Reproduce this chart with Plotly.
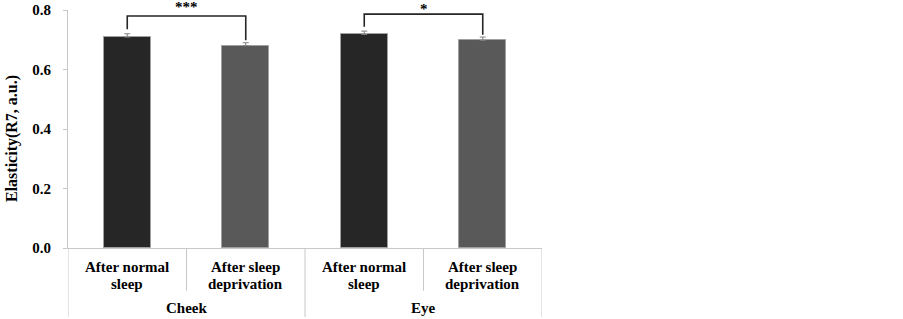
import plotly.graph_objects as go

groups = ["Cheek", "Eye"]
conditions = ["After normal<br>sleep", "After sleep<br>deprivation", "After normal<br>sleep", "After sleep<br>deprivation"]
values = [0.709, 0.680, 0.718, 0.698]
errors = [0.011, 0.010, 0.011, 0.011]
bar_colors = ["#262626", "#595959", "#262626", "#595959"]
sig_labels = ["***", "*"]
y_ticks = [0.0, 0.2, 0.4, 0.6, 0.8]
y_title = "Elasticity(R7, a.u.)"

FONT = "Liberation Serif"
AX = "#c8c8c8"
xs = list(range(len(values)))

fig = go.Figure()
fig.add_trace(go.Bar(
    x=xs, y=values, width=0.4,
    marker=dict(color=bar_colors, line=dict(color="#a0a0a0", width=1)),
    error_y=dict(type="data", array=errors, arrayminus=[0] * len(errors), symmetric=False,
                 color="#808080", thickness=1, width=3),
    showlegend=False,
))

# significance brackets
for i, lab in enumerate(sig_labels):
    a, b = 2 * i, 2 * i + 1
    top = max(values[a] + errors[a], values[b] + errors[b]) + 0.06
    if i == 1:
        top -= 0.003
    fig.add_trace(go.Scatter(
        x=[a, a, b, b],
        y=[values[a] + errors[a] + 0.015, top, top, values[b] + errors[b] + 0.008],
        mode="lines", line=dict(color="#262626", width=1.6),
        showlegend=False, cliponaxis=False, hoverinfo="skip",
    ))
    fig.add_annotation(x=(a + b) / 2, y=top, text="<b>%s</b>" % lab, showarrow=False,
                       yanchor="bottom", yshift=-1 if len(lab) > 1 else -5,
                       font=dict(family=FONT, size=15, color="#000"))

# category labels (one annotation per line for tighter spacing)
for x, c in zip(xs, conditions):
    for j, line in enumerate(c.split("<br>")):
        fig.add_annotation(x=x, y=0, yref="paper", text="<b>%s</b>" % line, showarrow=False,
                           yanchor="top", yshift=-9 - 17 * j,
                           font=dict(family=FONT, size=15, color="#000"))
for gi, g in enumerate(groups):
    fig.add_annotation(x=2 * gi + 0.5, y=0, yref="paper", text="<b>%s</b>" % g, showarrow=False,
                       yanchor="top", yshift=-50, font=dict(family=FONT, size=15, color="#000"))

# y title
fig.add_annotation(x=0, xref="paper", y=0.5, yref="paper", text="<b>%s</b>" % y_title,
                   textangle=-90, showarrow=False, xanchor="center", yanchor="middle",
                   xshift=-56, yshift=-10, font=dict(family=FONT, size=16, color="#000"))

# dividers
for k in range(len(values) + 1):
    xpos = k - 0.5
    long = (k % 2 == 0)
    fig.add_shape(type="line", xref="x", yref="paper", x0=xpos, x1=xpos,
                  y0=0, y1=-0.29 if long else -0.18, line=dict(color=AX, width=1))

fig.update_layout(
    width=903, height=319,
    margin=dict(l=68, r=361, t=10, b=71),
    plot_bgcolor="white", paper_bgcolor="white",
    font=dict(family=FONT, color="#000"),
    bargap=0,
)
fig.update_xaxes(range=[-0.5, 3.5], showticklabels=False, showgrid=False, zeroline=False,
                 showline=True, linecolor=AX, linewidth=1, ticks="", automargin=False)
fig.update_yaxes(range=[0, 0.8], tickvals=y_ticks, ticktext=["<b>%.1f</b>" % v for v in y_ticks],
                 tickfont=dict(family=FONT, size=15, color="#000"),
                 showgrid=False, zeroline=False, showline=True, linecolor=AX, linewidth=1,
                 ticks="outside", ticklen=4, tickcolor=AX, ticklabelstandoff=9, automargin=False)

fig.write_html("out.html", config={"displayModeBar": False},
               post_script="document.body.style.margin='0px';document.body.style.overflow='hidden';")
